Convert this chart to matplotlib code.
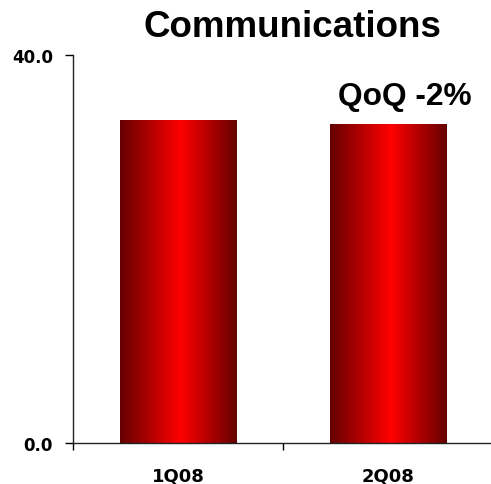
import numpy as np
import matplotlib
matplotlib.use("Agg")
import matplotlib.pyplot as plt
from matplotlib.colors import LinearSegmentedColormap
from matplotlib.patches import Rectangle

categories = ["1Q08", "2Q08"]
values = [33.3, 32.9]
title = "Communications"
annotation = "QoQ -2%"
yticks = [0.0, 40.0]

plt.rcParams['font.family'] = ['Liberation Sans', 'DejaVu Sans']

fig = plt.figure(figsize=(4.91, 4.85), dpi=100)
ax = fig.add_axes([73/491, 41/485, 420/491, (444-55.7)/485])

cmap = LinearSegmentedColormap.from_list(
    "redgrad", [(0.0, "#650000"), (0.52, "#ff0000"), (1.0, "#650000")])
grad = np.linspace(0, 1, 256).reshape(1, -1)

x = np.arange(len(categories)) + 0.5
width = 0.557
for xi, v in zip(x, values):
    rect = Rectangle((xi - width/2, 0), width, v, facecolor="none", edgecolor="none")
    ax.add_patch(rect)
    im = ax.imshow(grad, cmap=cmap, aspect="auto",
                   extent=(xi - width/2, xi + width/2, 0, v), zorder=2,
                   interpolation="bilinear")
    im.set_clip_path(rect)

tickfont = dict(family="DejaVu Sans", fontweight="bold")
ax.set_xlim(0, 2)
ax.set_ylim(0, 40)
ax.set_yticks(yticks)
ax.set_yticklabels([f"{t:.1f}" for t in yticks], fontsize=12, **tickfont)
ax.set_xticks([0, 1, 2])
ax.set_xticklabels([])
ax.set_xticks(x, minor=True)
ax.set_xticklabels(categories, minor=True, fontsize=13, **tickfont)
ax.tick_params(axis="x", which="minor", length=0, pad=17)
ax.tick_params(axis="x", which="major", length=5, width=1, direction="out")
ax.tick_params(axis="y", length=6, width=1, direction="out", pad=8.5)

for s in ["top", "right"]:
    ax.spines[s].set_visible(False)
for s in ["left", "bottom"]:
    ax.spines[s].set_linewidth(1)
    ax.spines[s].set_color("#222222")

fig.text(292/491, 1 - 37/485, title, ha="center", va="baseline",
         fontsize=26.5, fontweight="bold")
ax.text(1.581, 34.92, annotation, ha="center", va="baseline",
        fontsize=22.8, fontweight="bold")

fig.savefig("out.png", dpi=100)
